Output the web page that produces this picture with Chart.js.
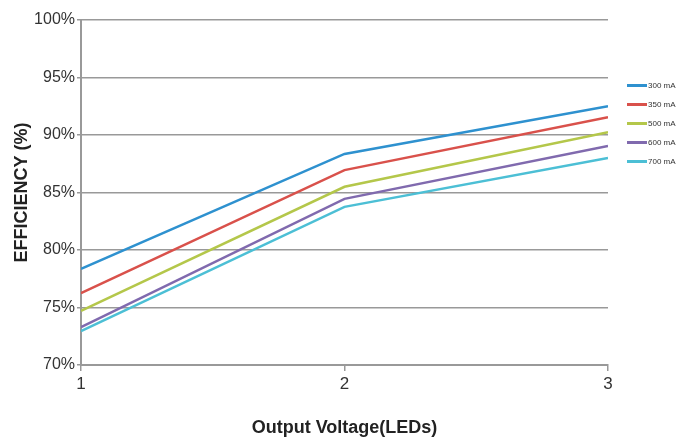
<!DOCTYPE html>
<html>
<head>
<meta charset="utf-8">
<script src="https://cdn.jsdelivr.net/npm/chart.js@4/dist/chart.umd.min.js"></script>
<style>
  html, body { margin: 0; padding: 0; background: #fff; }
  #wrap { position: relative; width: 678px; height: 443px; }
  #legend { position: absolute; left: 627px; top: 80px; font-family: "Liberation Sans", Arial, sans-serif; font-size: 8px; color: #333; }
  #legend div { height: 18.9px; line-height: 12px; white-space: nowrap; }
  #legend span.ln { display: inline-block; width: 20px; height: 3px; vertical-align: middle; margin-right: 1px; }
</style>
</head>
<body>
<div id="wrap">
  <canvas id="myChart" width="678" height="443"></canvas>
  <div id="legend"></div>
</div>
<script>
    "use strict";
    /* data */
    var voltages = [1, 2, 3];
    var seriesNames = ['300 mA', '350 mA', '500 mA', '600 mA', '700 mA'];
    var eff300 = [78.35, 88.35, 92.5];
    var eff350 = [76.25, 86.95, 91.55];
    var eff500 = [74.7, 85.5, 90.25];
    var eff600 = [73.3, 84.45, 89.05];
    var eff700 = [72.95, 83.75, 88.0];
    var yTicks = [70, 75, 80, 85, 90, 95, 100];

    var colorSet = ['#2e91cf', '#d9514b', '#b4c74a', '#806aae', '#4cbfd5'];
    var allSeries = [eff300, eff350, eff500, eff600, eff700];

    var font = "'Liberation Sans', Arial, sans-serif";

    var datasets = [];
    var i;
    for (i = 0; i < allSeries.length; i++) {
        datasets.push({
            label: seriesNames[i],
            data: voltages.map(function (v, j) { return {x: v, y: allSeries[i][j]}; }),
            borderColor: colorSet[i],
            borderWidth: 2.5,
            pointRadius: 0,
            tension: 0,
            fill: false
        });
    }

    var ctx = document.getElementById("myChart");
    var chart = new Chart(ctx, {
        type: 'line',
        data: { datasets: datasets },
        options: {
            responsive: false,
            animation: false,
            layout: { padding: { left: 0, right: 70, top: 20, bottom: 0 } },
            plugins: { legend: { display: false }, tooltip: { enabled: false } },
            scales: {
                x: {
                    type: 'linear',
                    min: 1, max: 3,
                    afterFit: function (scale) { scale.height = 78; },
                    afterBuildTicks: function (scale) {
                        scale.ticks = voltages.map(function (v) { return {value: v}; });
                    },
                    grid: { display: true, drawOnChartArea: false, color: '#999', lineWidth: 1.5, tickLength: 6 },
                    border: { color: '#999', width: 2 },
                    ticks: { color: '#333', font: { family: font, size: 17 }, padding: 3 },
                    title: { display: true, text: 'Output Voltage(LEDs)', color: '#222',
                             font: { family: font, size: 18, weight: 'bold' }, padding: { top: 18 } }
                },
                y: {
                    min: 70, max: 100,
                    afterFit: function (scale) { scale.width = 81; },
                    afterBuildTicks: function (scale) {
                        scale.ticks = yTicks.map(function (v) { return {value: v}; });
                    },
                    grid: { color: '#999', lineWidth: 1.5, tickLength: 4 },
                    border: { color: '#999', width: 2 },
                    ticks: { color: '#333', font: { family: font, size: 16 }, padding: 2,
                             callback: function (v) { return v + '%'; } },
                    title: { display: true, text: 'EFFICIENCY (%)', color: '#222',
                             font: { family: font, size: 18, weight: 'bold' }, padding: { top: 11, bottom: 4 } }
                }
            }
        }
    });

    /* html legend */
    var html = '';
    for (i = 0; i < seriesNames.length; i++) {
        html = html + '<div><span class="ln" style="background:' + colorSet[i] + '"></span>' + seriesNames[i] + '</div>';
    }
    document.getElementById("legend").innerHTML = html;
</script>
</body>
</html>
